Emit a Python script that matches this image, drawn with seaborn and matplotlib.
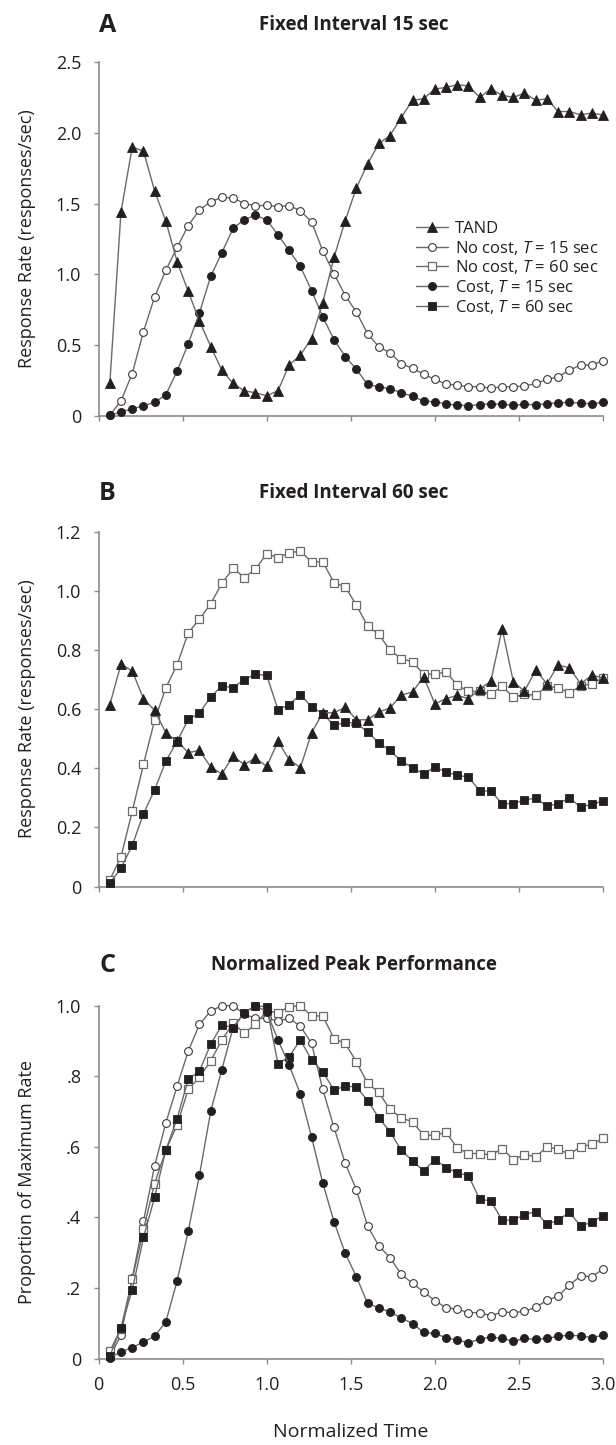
import matplotlib
matplotlib.use("Agg")
import matplotlib.pyplot as plt
import seaborn as sns
import pandas as pd
from matplotlib.lines import Line2D

# ---------------- data ----------------
norm_time = [0.067, 0.133, 0.200, 0.267, 0.333, 0.400, 0.467, 0.533, 0.600, 0.667,
             0.733, 0.800, 0.867, 0.933, 1.000, 1.067, 1.133, 1.200, 1.267, 1.333,
             1.400, 1.467, 1.533, 1.600, 1.667, 1.733, 1.800, 1.867, 1.933, 2.000,
             2.067, 2.133, 2.200, 2.267, 2.333, 2.400, 2.467, 2.533, 2.600, 2.667,
             2.733, 2.800, 2.867, 2.933, 3.000]

a_tand = [0.235, 1.44, 1.90, 1.87, 1.59, 1.375, 1.09, 0.88, 0.67, 0.49,
          0.324, 0.23, 0.178, 0.164, 0.143, 0.178, 0.36, 0.43, 0.547, 0.80,
          1.12, 1.38, 1.61, 1.78, 1.925, 1.98, 2.108, 2.23, 2.24, 2.31,
          2.32, 2.34, 2.33, 2.25, 2.31, 2.265, 2.25, 2.28, 2.23, 2.24,
          2.15, 2.15, 2.127, 2.14, 2.125]
a_nocost15 = [0.007, 0.106, 0.30, 0.596, 0.84, 1.03, 1.19, 1.345, 1.455, 1.514,
              1.545, 1.54, 1.50, 1.484, 1.488, 1.479, 1.486, 1.45, 1.37, 1.167,
              1.005, 0.85, 0.735, 0.58, 0.49, 0.446, 0.37, 0.336, 0.296, 0.258,
              0.225, 0.218, 0.207, 0.207, 0.195, 0.207, 0.207, 0.211, 0.23, 0.258,
              0.277, 0.324, 0.36, 0.36, 0.39]
a_cost15 = [0.005, 0.03, 0.05, 0.073, 0.096, 0.15, 0.317, 0.51, 0.73, 0.987,
            1.153, 1.326, 1.387, 1.418, 1.385, 1.279, 1.169, 1.056, 0.885, 0.70,
            0.54, 0.42, 0.33, 0.223, 0.207, 0.193, 0.164, 0.14, 0.105, 0.10,
            0.085, 0.077, 0.073, 0.08, 0.087, 0.082, 0.075, 0.082, 0.08, 0.085,
            0.094, 0.096, 0.092, 0.085, 0.096]

b_tand = [0.615, 0.752, 0.729, 0.635, 0.596, 0.519, 0.492, 0.453, 0.46, 0.404,
          0.381, 0.441, 0.412, 0.435, 0.406, 0.491, 0.429, 0.402, 0.52, 0.587,
          0.588, 0.606, 0.564, 0.564, 0.59, 0.604, 0.647, 0.658, 0.709, 0.618,
          0.635, 0.647, 0.635, 0.669, 0.694, 0.872, 0.692, 0.661, 0.731, 0.686,
          0.75, 0.739, 0.686, 0.714, 0.706]
b_nocost60 = [0.023, 0.10, 0.254, 0.413, 0.562, 0.672, 0.75, 0.858, 0.904, 0.957,
              1.025, 1.076, 1.045, 1.073, 1.126, 1.112, 1.129, 1.134, 1.098, 1.098,
              1.028, 1.013, 0.952, 0.881, 0.853, 0.799, 0.771, 0.76, 0.718, 0.718,
              0.726, 0.681, 0.66, 0.66, 0.652, 0.677, 0.641, 0.65, 0.647, 0.677,
              0.672, 0.655, 0.678, 0.686, 0.706]
b_cost60 = [0.012, 0.062, 0.139, 0.246, 0.327, 0.424, 0.491, 0.565, 0.587, 0.641,
            0.678, 0.673, 0.70, 0.718, 0.714, 0.598, 0.615, 0.649, 0.607, 0.585,
            0.545, 0.555, 0.552, 0.523, 0.486, 0.46, 0.424, 0.402, 0.381, 0.404,
            0.387, 0.376, 0.37, 0.323, 0.323, 0.28, 0.28, 0.293, 0.299, 0.272,
            0.28, 0.299, 0.269, 0.278, 0.289]

c_nocost15 = [0.005, 0.066, 0.227, 0.389, 0.546, 0.668, 0.772, 0.871, 0.947, 0.985,
              1.0, 1.0, 0.976, 0.964, 0.964, 0.957, 0.964, 0.942, 0.893, 0.763,
              0.655, 0.553, 0.479, 0.375, 0.319, 0.286, 0.239, 0.213, 0.189, 0.164,
              0.144, 0.14, 0.13, 0.13, 0.121, 0.132, 0.13, 0.134, 0.145, 0.165,
              0.177, 0.208, 0.234, 0.232, 0.253]
c_cost15 = [0.002, 0.019, 0.031, 0.047, 0.063, 0.104, 0.22, 0.361, 0.52, 0.701,
            0.819, 0.938, 0.98, 1.0, 0.983, 0.903, 0.832, 0.75, 0.627, 0.498,
            0.388, 0.298, 0.232, 0.156, 0.144, 0.132, 0.115, 0.099, 0.074, 0.071,
            0.059, 0.052, 0.045, 0.055, 0.061, 0.057, 0.049, 0.057, 0.054, 0.057,
            0.063, 0.066, 0.064, 0.059, 0.066]
c_nocost60 = [0.021, 0.085, 0.224, 0.366, 0.496, 0.59, 0.662, 0.763, 0.797, 0.844,
              0.903, 0.95, 0.922, 0.947, 0.985, 0.98, 0.997, 1.0, 0.971, 0.971,
              0.907, 0.893, 0.841, 0.78, 0.754, 0.706, 0.682, 0.671, 0.633, 0.633,
              0.641, 0.597, 0.581, 0.581, 0.577, 0.595, 0.564, 0.578, 0.572, 0.60,
              0.593, 0.579, 0.60, 0.607, 0.624]
c_cost60 = [0.007, 0.087, 0.194, 0.343, 0.457, 0.591, 0.68, 0.791, 0.815, 0.891,
            0.945, 0.938, 0.98, 1.0, 0.997, 0.835, 0.855, 0.903, 0.846, 0.813,
            0.761, 0.772, 0.77, 0.731, 0.682, 0.643, 0.591, 0.56, 0.532, 0.564,
            0.541, 0.526, 0.518, 0.451, 0.447, 0.392, 0.392, 0.408, 0.416, 0.38,
            0.392, 0.414, 0.376, 0.386, 0.405]

panel_letters = ["A", "B", "C"]
panel_titles = ["Fixed Interval 15 sec", "Fixed Interval 60 sec", "Normalized Peak Performance"]
y_labels = ["Response Rate (responses/sec)", "Response Rate (responses/sec)", "Proportion of Maximum Rate"]
a_yticks = [0, 0.5, 1.0, 1.5, 2.0, 2.5]
a_yticklabels = ["0", "0.5", "1.0", "1.5", "2.0", "2.5"]
b_yticks = [0, 0.2, 0.4, 0.6, 0.8, 1.0, 1.2]
b_yticklabels = ["0", "0.2", "0.4", "0.6", "0.8", "1.0", "1.2"]
c_yticks = [0, 0.2, 0.4, 0.6, 0.8, 1.0]
c_yticklabels = ["0", ".2", ".4", ".6", ".8", "1.0"]
x_ticks = [0, 0.5, 1.0, 1.5, 2.0, 2.5, 3.0]
x_ticklabels = ["0", "0.5", "1.0", "1.5", "2.0", "2.5", "3.0"]
legend_labels = ["TAND", r"No cost, $T$ = 15 sec", r"No cost, $T$ = 60 sec",
                 r"Cost, $T$ = 15 sec", r"Cost, $T$ = 60 sec"]

# ---------------- style ----------------
sns.set_style("ticks")
FONT = "Open Sans"
plt.rcParams["font.family"] = [FONT, "DejaVu Sans"]
plt.rcParams["mathtext.fontset"] = "custom"
plt.rcParams["mathtext.it"] = FONT + ":italic"
plt.rcParams["mathtext.rm"] = FONT

INK = "#231f20"
LINE = "#6a6a6a"
SPINE = "#8c8c8c"

styles = {
    "tand": dict(marker="^", markersize=6.6, markerfacecolor=INK, markeredgecolor=INK, markeredgewidth=0.6),
    "nc15": dict(marker="o", markersize=5.6, markerfacecolor="white", markeredgecolor="#3a3a3a", markeredgewidth=0.8),
    "nc60": dict(marker="s", markersize=5.4, markerfacecolor="white", markeredgecolor="#6a6a6a", markeredgewidth=0.9),
    "c15": dict(marker="o", markersize=5.8, markerfacecolor=INK, markeredgecolor=INK, markeredgewidth=0.6),
    "c60": dict(marker="s", markersize=5.4, markerfacecolor=INK, markeredgecolor=INK, markeredgewidth=0.6),
}

W, H = 616, 1445
fig = plt.figure(figsize=(W / 100, H / 100), dpi=100)

def fx(px):
    return px / W

def fy(py):
    return 1 - py / H

left_px, right_px = 98.6, 603
panels = [(62, 416), (531.7, 886.5), (1005.7, 1358.5)]
axes = []
for top, bot in panels:
    ax = fig.add_axes([fx(left_px), fy(bot), fx(right_px - left_px), (bot - top) / H])
    axes.append(ax)

def draw(ax, y, key, z):
    df = pd.DataFrame({"t": norm_time, "v": y})
    sns.lineplot(data=df, x="t", y="v", ax=ax, color=LINE, linewidth=1.0,
                 sort=False, errorbar=None, zorder=z, **styles[key])

# Panel A
draw(axes[0], a_nocost15, "nc15", 3)
draw(axes[0], a_cost15, "c15", 4)
draw(axes[0], a_tand, "tand", 5)
# Panel B
draw(axes[1], b_nocost60, "nc60", 3)
draw(axes[1], b_cost60, "c60", 4)
draw(axes[1], b_tand, "tand", 5)
# Panel C
draw(axes[2], c_nocost15, "nc15", 3)
draw(axes[2], c_nocost60, "nc60", 4)
draw(axes[2], c_cost60, "c60", 5)
draw(axes[2], c_cost15, "c15", 6)

ylims = [(0, 2.5), (0, 1.2), (0, 1.0)]
yticks = [a_yticks, b_yticks, c_yticks]
yticklabels = [a_yticklabels, b_yticklabels, c_yticklabels]
title_y = [25, 493, 965]

for i, ax in enumerate(axes):
    ax.set_xlim(0, 3.0)
    ax.set_ylim(*ylims[i])
    ax.set_yticks(yticks[i])
    ax.set_yticklabels(yticklabels[i])
    ax.set_xticks(x_ticks)
    if i == 2:
        ax.set_xticklabels(x_ticklabels)
    else:
        ax.set_xticklabels([])
    ax.set_xlabel("")
    ax.set_ylabel("")
    for s in ["top", "right"]:
        ax.spines[s].set_visible(False)
    for s in ["left", "bottom"]:
        ax.spines[s].set_color(SPINE)
        ax.spines[s].set_linewidth(1.2)
    ax.tick_params(axis="both", direction="out", length=3.5, width=1.0, color=SPINE,
                   labelsize=13, labelcolor=INK, pad=9)
    ax.patch.set_alpha(0)
    for ln in ax.lines:
        ln.set_clip_on(False)
    ymid = (panels[i][0] + panels[i][1]) / 2
    fig.text(fx(27), fy(ymid), y_labels[i], rotation=90, ha="center", va="center",
             fontsize=13, color=INK)
    fig.text(fx(99), fy(title_y[i]), panel_letters[i], ha="left", va="center",
             fontsize=18, fontweight="bold", color=INK)
    fig.text(fx((left_px + right_px) / 2 + 3), fy(title_y[i]), panel_titles[i], ha="center",
             va="center", fontsize=13.5, fontweight="bold", color=INK)

fig.text(fx((left_px + right_px) / 2), fy(1432), "Normalized Time", ha="center", va="center",
         fontsize=14, color=INK)

# Legend in panel A
keys = ["tand", "nc15", "nc60", "c15", "c60"]
handles = [Line2D([0], [0], color=LINE, linewidth=1.0, **styles[k]) for k in keys]
axes[0].legend(handles, legend_labels, loc="upper left", bbox_to_anchor=(fx(416), fy(221)),
               bbox_transform=fig.transFigure, frameon=False, fontsize=12,
               handlelength=1.9, handletextpad=0.45, labelspacing=0.1,
               borderpad=0, borderaxespad=0, labelcolor=INK)

fig.savefig("out.png", dpi=100)
